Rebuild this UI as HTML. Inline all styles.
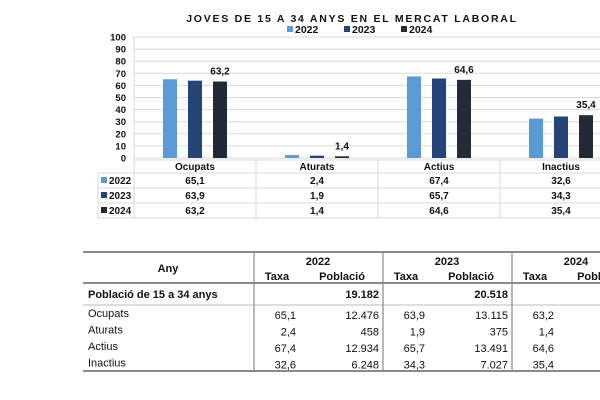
<!DOCTYPE html>
<html><head><meta charset="utf-8"><style>
body{margin:0;background:#fff;width:600px;height:400px;overflow:hidden;font-family:"Liberation Sans",Arial,sans-serif}
svg{position:absolute;left:0;top:0}
</style></head><body>
<svg width="600" height="400" viewBox="0 0 600 400">
<text x="352" y="22" text-anchor="middle" font-size="10.5" font-weight="bold" letter-spacing="1.75" fill="#111">JOVES DE 15 A 34 ANYS EN EL MERCAT LABORAL</text>
<g id="legend"></g>
<g id="grid"></g><g id="bars"></g><g id="dtable"></g><g id="btable"></g>
</svg>
<script>
const categories=["Ocupats","Aturats","Actius","Inactius"];
const years=["2022","2023","2024"];
const s2022=[65.1,2.4,67.4,32.6];
const s2023=[63.9,1.9,65.7,34.3];
const s2024=[63.2,1.4,64.6,35.4];
const yTicks=[0,10,20,30,40,50,60,70,80,90,100];
const pop2022=[12476,458,12934,6248];
const pop2023=[13115,375,13491,7027];
const pop2024=[12966,287,13253,7265];
const totals=[19182,20518,20531];
const series=[s2022,s2023,s2024];
const pops=[pop2022,pop2023,pop2024];
const colors=["#5b9bd5","#264478","#222a35"];
const NS="http://www.w3.org/2000/svg";
const X0=134,CW=122,Y0=158,YS=1.21;
const xCat=i=>X0+CW*i+CW/2;
const yv=v=>Y0-v*YS;
function mk(p,tag,attrs,txt){const e=document.createElementNS(NS,tag);for(const k in attrs)e.setAttribute(k,attrs[k]);if(txt!==undefined)e.textContent=txt;p.appendChild(e);return e;}
const fmt=v=>v.toFixed(1).replace('.',',');
const fmtK=v=>v.toLocaleString('de-DE');
// legend
const lg=document.getElementById('legend');
years.forEach((y,i)=>{const lx=287+i*57;
 const r=mk(lg,'rect',{x:lx,y:26,width:6,height:6,fill:colors[i]});
 
 
 const t=mk(lg,'text',{x:lx+8,y:33,'font-size':10.5,'font-weight':'bold',fill:'#111'},y);
 
 
});
// grid + y ticks
const g=document.getElementById('grid');
yTicks.forEach(v=>{
 mk(g,'line',{x1:X0,x2:600,y1:yv(v),y2:yv(v),stroke:'#d9d9d9','stroke-width':1});
 const t=mk(g,'text',{x:126,y:yv(v)+3.5,'text-anchor':'end','font-size':9.5,'font-weight':'bold',fill:'#111'},v);
 
 
});
mk(g,'line',{x1:X0,x2:X0,y1:yv(100),y2:218,stroke:'#d9d9d9'});
// bars
const b=document.getElementById('bars');
categories.forEach((c,i)=>{series.forEach((s,j)=>{
 const cx=xCat(i)+(j-1)*25;
 const r=mk(b,'rect',{x:cx-7,y:yv(s[i]),width:14,height:s[i]*YS,fill:colors[j]});
 
 
});
 const t=mk(b,'text',{x:xCat(i)+25,y:yv(s2024[i])-7,'text-anchor':'middle','font-size':10,'font-weight':'bold',fill:'#111'},fmt(s2024[i]));
 
 
});
// data table
const d=document.getElementById('dtable');
const rowY=[160,173,188,203,218];
rowY.forEach((y,k)=>mk(d,'line',{x1:k==0?X0:98,x2:600,y1:y,y2:y,stroke:'#d9d9d9'}));
mk(d,'line',{x1:98,x2:98,y1:173,y2:218,stroke:'#d9d9d9'});
for(let i=1;i<=4;i++)mk(d,'line',{x1:X0+CW*i,x2:X0+CW*i,y1:160,y2:218,stroke:'#d9d9d9'});
categories.forEach((c,i)=>{const t=mk(d,'text',{x:xCat(i),y:170,'text-anchor':'middle','font-size':10,'font-weight':'bold',fill:'#111'},c);
 
 });
years.forEach((y,j)=>{const cy=(rowY[j+1]+rowY[j+2])/2+3.5;
 mk(d,'rect',{x:101,y:cy-7,width:6,height:6,fill:colors[j]});
 mk(d,'text',{x:109,y:cy,'font-size':10,'font-weight':'bold',fill:'#111'},y);
 series[j].forEach((v,i)=>mk(d,'text',{x:xCat(i),y:cy,'text-anchor':'middle','font-size':10,'font-weight':'bold',fill:'#111'},fmt(v)));
});
// bottom table
const bt=document.getElementById('btable');
mk(bt,'line',{x1:83,x2:600,y1:252,y2:252,stroke:'#444','stroke-width':1.3});
mk(bt,'line',{x1:83,x2:600,y1:283,y2:283,stroke:'#444','stroke-width':1.3});
mk(bt,'line',{x1:83,x2:600,y1:305,y2:305,stroke:'#bbb','stroke-width':1});
mk(bt,'line',{x1:83,x2:600,y1:371,y2:371,stroke:'#444','stroke-width':1.3});
[254,383,512].forEach(x=>mk(bt,'line',{x1:x,x2:x,y1:252,y2:371,stroke:'#888','stroke-width':1.2}));
mk(bt,'text',{x:168,y:272,'text-anchor':'middle','font-size':11,'font-weight':'bold',fill:'#111'},'Any');
mk(bt,'text',{x:88,y:298,'font-size':11,'font-weight':'bold',fill:'#111'},'Població de 15 a 34 anys');
years.forEach((y,j)=>{const bx=254+j*129;
 mk(bt,'text',{x:bx+64,y:265,'text-anchor':'middle','font-size':11,'font-weight':'bold',fill:'#111'},y);
 mk(bt,'text',{x:bx+23,y:280,'text-anchor':'middle','font-size':11,'font-weight':'bold',fill:'#111'},'Taxa');
 mk(bt,'text',{x:bx+88,y:280,'text-anchor':'middle','font-size':11,'font-weight':'bold',fill:'#111'},'Població');
 mk(bt,'text',{x:bx+125,y:298,'text-anchor':'end','font-size':11,'font-weight':'bold',fill:'#111'},fmtK(totals[j]));
 categories.forEach((c,i)=>{const ry=317+i*16.5;
  mk(bt,'text',{x:bx+42,y:ry+2,'text-anchor':'end','font-size':11,fill:'#111'},fmt(series[j][i]));
  mk(bt,'text',{x:bx+125,y:ry+2,'text-anchor':'end','font-size':11,fill:'#111'},fmtK(pops[j][i]));
 });
});
categories.forEach((c,i)=>mk(bt,'text',{x:88,y:317+i*16.5,'font-size':11,fill:'#111'},c));
</script>
</body></html>
